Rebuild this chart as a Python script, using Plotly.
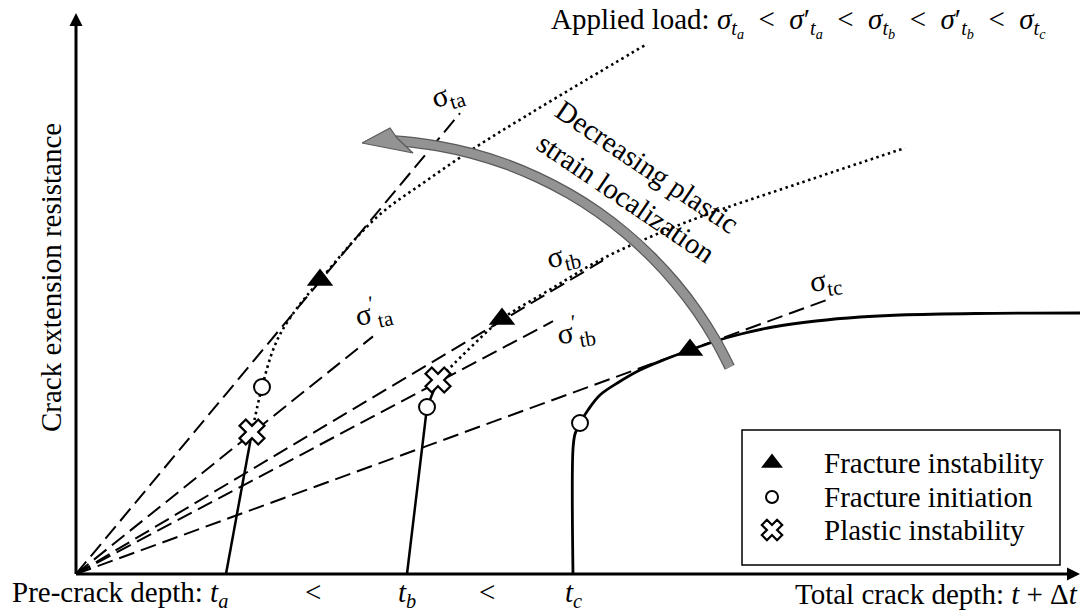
import plotly.graph_objects as go

# ---------------- data (schematic units, origin = axes origin) ----------------
pre_crack_names = ["a", "b", "c"]
pre_crack_depth = [150, 331, 497]

load_labels = ["σ<sub>ta</sub>", "σ<sup>′</sup><sub>ta</sub>", "σ<sub>tb</sub>",
               "σ<sup>′</sup><sub>tb</sub>", "σ<sub>tc</sub>"]
load_slopes = [1.20, 0.80, 0.595, 0.53, 0.365]
load_end_x = [384, 297, 527, 477, 754]
load_label_x = [372, 297, 487, 499, 749]
load_label_y = [478, 262, 317, 243, 292]
load_label_angle = [-17, -13, -13, -10, -8]

# resistance curve for t_a
a_solid_x = [150, 176]
a_solid_y = [0, 142]
a_dot_x = [176, 186, 199, 214, 244, 301, 350, 400, 450, 510, 571]
a_dot_y = [142, 187, 229, 256, 294, 357, 393, 427, 458, 494, 530]

# resistance curve for t_b
b_solid_x = [331, 351, 362]
b_solid_y = [0, 167, 194]
b_dot_x = [362, 394, 426, 475, 524, 574, 624, 724, 829]
b_dot_y = [194, 226, 255, 285, 314, 337, 357, 391, 426]

# resistance curve for t_c
c_x = [497, 497, 499, 504, 512, 524, 543, 564, 590, 614, 640, 665, 697, 740, 784, 824, 900, 1004]
c_y = [0, 125, 140, 151, 164, 179, 192, 204, 215, 224, 233, 240, 247, 253, 257, 259, 260.5, 261]

# event points
instab_x = [244, 426, 614]
instab_y = [294, 255, 224]
init_x = [186, 351, 504]
init_y = [187, 167, 151]
plastic_x = [176, 362]
plastic_y = [142, 194]

# curved "decreasing localization" arrow
arc_x = [314, 328, 362.5, 396.5, 429.8, 462, 493, 522.4, 550.1, 575.8, 599.4, 620.7, 639.4, 653.7]
arc_y = [433.5, 432.5, 427.9, 420.4, 409.9, 396.5, 380.4, 361.7, 340.4, 316.8, 291.1, 263.4, 234, 206.8]
head_x = [286, 314, 321, 337, 286]
head_y = [431, 446, 436, 421, 431]

legend_names = ["Fracture instability", "Fracture initiation", "Plastic instability"]

# axis extents
x_axis_end = 1004
y_axis_end = 561

# ---------------- figure ----------------
FONT = "Liberation Serif, Times New Roman, serif"
BLACK = "#000000"
fig = go.Figure()

# axes (lines + arrow heads)
fig.add_shape(type="line", x0=0, y0=0, x1=0, y1=y_axis_end - 10,
              line=dict(color=BLACK, width=3))
fig.add_shape(type="line", x0=0, y0=0, x1=x_axis_end - 10, y1=0,
              line=dict(color=BLACK, width=3))
fig.add_trace(go.Scatter(x=[0], y=[y_axis_end], mode="markers",
                         marker=dict(symbol="arrow-up", size=13, color=BLACK,
                                     line=dict(width=0)),
                         showlegend=False, hoverinfo="skip"))
fig.add_trace(go.Scatter(x=[x_axis_end], y=[0], mode="markers",
                         marker=dict(symbol="arrow-right", size=13, color=BLACK,
                                     line=dict(width=0)),
                         showlegend=False, hoverinfo="skip"))

# load lines (dashed)
for s, xe in zip(load_slopes, load_end_x):
    fig.add_trace(go.Scatter(x=[0, xe], y=[0, s * xe], mode="lines",
                             line=dict(color=BLACK, width=2, dash="16px,7px"),
                             showlegend=False, hoverinfo="skip"))

# dotted parts
for xs, ys in [(a_dot_x, a_dot_y), (b_dot_x, b_dot_y)]:
    fig.add_trace(go.Scatter(x=xs, y=ys, mode="lines", line_shape="spline",
                             line=dict(color=BLACK, width=2.6, dash="2.5px,3.5px"),
                             showlegend=False, hoverinfo="skip"))
# solid parts
for xs, ys in [(a_solid_x, a_solid_y), (b_solid_x, b_solid_y)]:
    fig.add_trace(go.Scatter(x=xs, y=ys, mode="lines",
                             line=dict(color=BLACK, width=2.5),
                             showlegend=False, hoverinfo="skip"))
fig.add_trace(go.Scatter(x=c_x, y=c_y, mode="lines", line_shape="spline",
                         line=dict(color=BLACK, width=2.8),
                         showlegend=False, hoverinfo="skip"))

# gray curved arrow
fig.add_trace(go.Scatter(x=arc_x, y=arc_y, mode="lines", line_shape="spline",
                         line=dict(color="#5a5a5a", width=11),
                         showlegend=False, hoverinfo="skip"))
fig.add_trace(go.Scatter(x=arc_x, y=arc_y, mode="lines", line_shape="spline",
                         line=dict(color="#939393", width=8.5),
                         showlegend=False, hoverinfo="skip"))
fig.add_trace(go.Scatter(x=head_x, y=head_y, mode="lines", fill="toself",
                         fillcolor="#939393", line=dict(color="#5a5a5a", width=1.2),
                         showlegend=False, hoverinfo="skip"))

# markers
fig.add_trace(go.Scatter(x=instab_x, y=instab_y, mode="markers",
                         marker=dict(symbol="triangle-up", size=23, color=BLACK),
                         showlegend=False, hoverinfo="skip"))
fig.add_trace(go.Scatter(x=init_x, y=init_y, mode="markers",
                         marker=dict(symbol="circle", size=16, color="white",
                                     line=dict(color=BLACK, width=2)),
                         showlegend=False, hoverinfo="skip"))
fig.add_trace(go.Scatter(x=plastic_x, y=plastic_y, mode="markers",
                         marker=dict(symbol="x", size=22, color="white",
                                     line=dict(color=BLACK, width=2.3)),
                         showlegend=False, hoverinfo="skip"))

# manual legend
leg_y = [111, 77, 44]
fig.add_shape(type="rect", x0=666, x1=984, y0=9, y1=144,
              line=dict(color=BLACK, width=1.5), fillcolor="white", layer="below")
fig.add_trace(go.Scatter(x=[696], y=[leg_y[0]], mode="markers",
                         marker=dict(symbol="triangle-up", size=19, color=BLACK),
                         showlegend=False, hoverinfo="skip"))
fig.add_trace(go.Scatter(x=[696], y=[leg_y[1]], mode="markers",
                         marker=dict(symbol="circle", size=12, color="white",
                                     line=dict(color=BLACK, width=2)),
                         showlegend=False, hoverinfo="skip"))
fig.add_trace(go.Scatter(x=[696], y=[leg_y[2]], mode="markers",
                         marker=dict(symbol="x", size=18, color="white",
                                     line=dict(color=BLACK, width=2.2)),
                         showlegend=False, hoverinfo="skip"))

annotations = []
for name, yy in zip(legend_names, leg_y):
    annotations.append(dict(x=746, y=yy, text=name, showarrow=False, xanchor="left",
                            yanchor="middle", font=dict(family=FONT, size=29, color=BLACK)))

# load line labels
for lab, lx, ly, ang in zip(load_labels, load_label_x, load_label_y, load_label_angle):
    annotations.append(dict(x=lx, y=ly, text=lab, showarrow=False, textangle=ang,
                            font=dict(family=FONT, size=30, color=BLACK)))

# curved arrow text
annotations.append(dict(x=560, y=392, text="Decreasing plastic<br>strain localization",
                        showarrow=False, textangle=34, align="center",
                        font=dict(family=FONT, size=29, color=BLACK)))

# header
LT = "&nbsp;&nbsp;&lt;&nbsp;&nbsp;"
annotations.append(dict(x=722, y=552,
                        text="Applied load: <i>σ</i><sub><i>t<sub>a</sub></i></sub>" + LT +
                             "<i>σ</i>′<sub><i>t<sub>a</sub></i></sub>" + LT +
                             "<i>σ</i><sub><i>t<sub>b</sub></i></sub>" + LT +
                             "<i>σ</i>′<sub><i>t<sub>b</sub></i></sub>" + LT +
                             "<i>σ</i><sub><i>t<sub>c</sub></i></sub>",
                        showarrow=False, font=dict(family=FONT, size=29, color=BLACK)))

# axis titles
annotations.append(dict(x=-25, y=296, text="Crack extension resistance", showarrow=False,
                        textangle=-90, font=dict(family=FONT, size=29, color=BLACK)))
annotations.append(dict(x=-66, y=-20,
                        text="Pre-crack depth: <i>t</i><sub><i>a</i></sub>",
                        showarrow=False, xanchor="left",
                        font=dict(family=FONT, size=29, color=BLACK)))
annotations.append(dict(x=pre_crack_depth[1], y=-20, text="<i>t</i><sub><i>b</i></sub>",
                        showarrow=False, font=dict(family=FONT, size=29, color=BLACK)))
annotations.append(dict(x=pre_crack_depth[2], y=-20, text="<i>t</i><sub><i>c</i></sub>",
                        showarrow=False, font=dict(family=FONT, size=29, color=BLACK)))
for lx in [(pre_crack_depth[0] + pre_crack_depth[1]) / 2 - 4,
           (pre_crack_depth[1] + pre_crack_depth[2]) / 2 - 3]:
    annotations.append(dict(x=lx, y=-18, text="&lt;", showarrow=False,
                            font=dict(family=FONT, size=29, color=BLACK)))
annotations.append(dict(x=1004, y=-20, text="Total crack depth: <i>t</i> + Δ<i>t</i>",
                        showarrow=False, xanchor="right",
                        font=dict(family=FONT, size=29, color=BLACK)))

fig.update_layout(
    width=1086, height=614, margin=dict(l=0, r=0, t=0, b=0),
    paper_bgcolor="white", plot_bgcolor="white",
    xaxis=dict(range=[-76, 1010], visible=False, fixedrange=True),
    yaxis=dict(range=[-40, 574], visible=False, fixedrange=True),
    annotations=annotations, showlegend=False,
)

fig.write_html("out.html")
